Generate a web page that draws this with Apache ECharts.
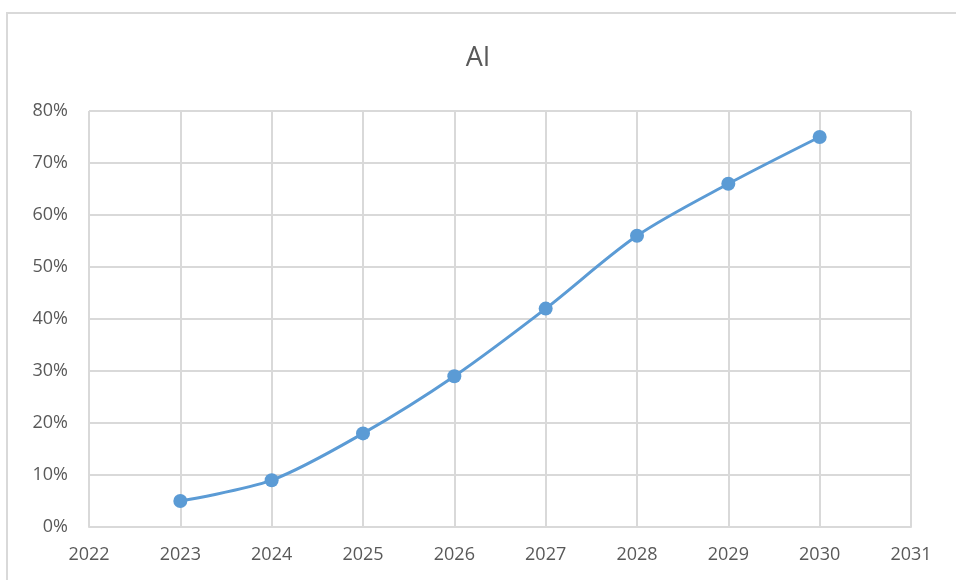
<!DOCTYPE html>
<html>
<head>
<meta charset="utf-8">
<script src="https://cdn.jsdelivr.net/npm/echarts@6/dist/echarts.min.js"></script>
<style>
  html, body { margin: 0; padding: 0; background: #fff; }
  #chart { width: 956px; height: 580px; }
</style>
</head>
<body>
<div id="chart"></div>
<script>
const years = [2023, 2024, 2025, 2026, 2027, 2028, 2029, 2030];
const share = [5, 9, 18, 29, 42, 56, 66, 75];

const chart = echarts.init(document.getElementById("chart"));
const textColor = "#595959";
const gridColor = "#d9d9d9";

chart.setOption({
  animation: false,
  textStyle: { fontFamily: "Open Sans" },
  graphic: [
    {
      type: "rect",
      shape: { x: 7, y: 13, width: 1000, height: 1000 },
      style: { fill: "none", stroke: "#d9d9d9", lineWidth: 2 },
    },
  ],
  title: {
    text: "AI",
    left: "center",
    top: 40,
    textStyle: { color: textColor, fontSize: 27, fontWeight: "normal" },
  },
  grid: { left: 89, right: 45, top: 111, bottom: 53 },
  xAxis: {
    type: "value",
    min: 2022,
    max: 2031,
    interval: 1,
    axisLine: { show: true, lineStyle: { color: gridColor, width: 2 } },
    axisTick: { show: false },
    splitLine: { show: true, lineStyle: { color: gridColor, width: 2 } },
    axisLabel: { color: textColor, fontSize: 18, margin: 19, formatter: (v) => String(v) },
  },
  yAxis: {
    type: "value",
    min: 0,
    max: 80,
    interval: 10,
    axisLine: { show: false },
    axisTick: { show: false },
    splitLine: { show: true, lineStyle: { color: gridColor, width: 2 } },
    axisLabel: { color: textColor, fontSize: 18, margin: 21, formatter: "{value}%" },
  },
  series: [
    {
      type: "line",
      smooth: 0.3,
      data: years.map((y, i) => [y, share[i]]),
      symbol: "circle",
      symbolSize: 14,
      lineStyle: { color: "#5b9bd5", width: 3 },
      itemStyle: { color: "#5b9bd5" },
    },
  ],
});
</script>
</body>
</html>
